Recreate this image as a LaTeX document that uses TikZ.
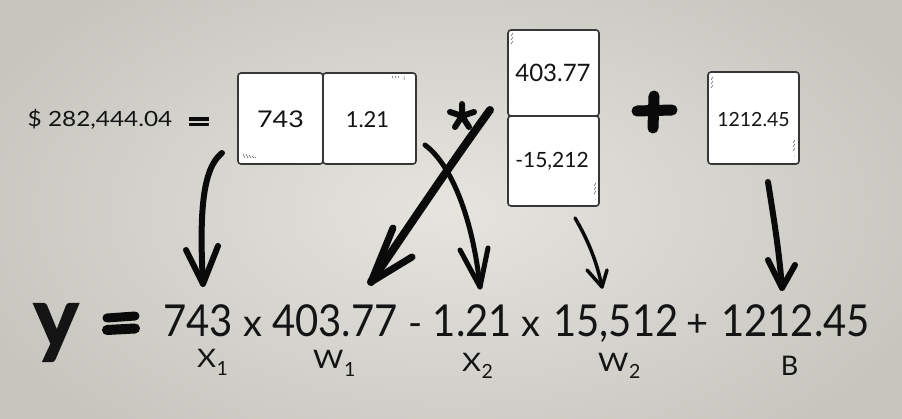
\documentclass[tikz,border=0pt]{standalone}
\usepackage{fontspec}
\setmainfont{Lato}
\newfontfamily\heavy{Lato}[BoldFeatures={FakeBold=2.5}]
\definecolor{bgin}{RGB}{229,228,223}
\definecolor{bgout}{RGB}{198,197,190}
\definecolor{boxedge}{RGB}{55,55,55}
\definecolor{inkc}{RGB}{10,10,10}
\definecolor{txt}{RGB}{20,20,20}
\definecolor{scrib}{RGB}{90,90,90}
\newcommand{\fs}[1]{\fontsize{#1}{#1}\selectfont}
\newcommand{\lab}[2]{\scalebox{1.15}[1]{#1}\kern0.5pt\raisebox{-8pt}{\fs{19.5}#2}}
\newcommand{\nar}[1]{\scalebox{0.91}[1]{#1}}
\newcommand{\wid}[1]{\scalebox{1.16}[1]{#1}}
\begin{document}
\begin{tikzpicture}[x=1pt,y=-1pt,
  box/.style={draw=boxedge, fill=white, line width=1.6pt, rounded corners=3pt},
  ink/.style={draw=inkc, line width=#1, line cap=round, line join=round},
  tok/.style={anchor=base, inner sep=0pt, text=txt},
  lbl/.style={anchor=base west, inner sep=0pt, text=txt, font=\fs{25.5}},
  scr/.style={draw=scrib, line width=0.5pt}]
\useasboundingbox (0,0) rectangle (902,419);
\shade[inner color=bgin, outer color=bgout] (-60,-80) rectangle (962,499);

% left value
\node[tok, font=\fs{21}] (total) at (100,127) {\wid{\$ 282,444.04}};
\draw[ink=3.5pt, line cap=butt] (189,119) -- (209,119) (189,124.5) -- (209,124.5);

% box 1
\draw[box] (238,73) rectangle (323,164);
\draw[box] (323,73) rectangle (416,164);
\node[tok, font=\fs{23}] (b743) at (280.5,128) {\scalebox{1.17}[1]{743}};
\node[tok, font=\fs{22}] (b121) at (367.5,128) {1.21};
\draw[scr] (243,154) -- (245,158) (246,154) -- (248,158) (249,155) -- (251,158) (252,156) -- (254,158) (255,157) -- (256,158);
\draw[scr] (392,76) -- (393,78) (395,76) -- (396,78) (398,76) -- (399,78) (404,76) -- (404,80);

% multiply sign
\draw[ink=6pt] (462,104) -- (462,116) (450,112) -- (462,116) (474,112) -- (462,116) (455,127) -- (462,116) (469,127) -- (462,116);

% box 2
\draw[box] (508,30) rectangle (599,116);
\draw[box] (508,116) rectangle (599,206);
\node[tok, font=\fs{24}] (b403) at (553,82) {403.77};
\node[tok, font=\fs{21}] (b152) at (552,168) {-15,212};
\draw[scr] (511,36) -- (513,33) (511,40) -- (513,37) (511,44) -- (513,41);
\draw[scr] (594,186) -- (596,183) (594,190) -- (596,187) (594,194) -- (596,191) (595,200) -- (596,200);

% plus sign
\draw[ink=11pt] (654,96) -- (653,128) (637,111) -- (672,110);

% box 3
\draw[box] (708,72) rectangle (799,164);
\node[tok, font=\fs{19.5}] (b1212) at (753.5,127) {1212.45};
\draw[scr] (711,80) -- (713,77) (711,84) -- (713,81) (711,88) -- (713,85);
\draw[scr] (793,143) -- (795,140) (793,147) -- (795,144) (793,151) -- (795,148) (794,156) -- (795,156);

% bottom equation
\node[tok, font=\heavy\bfseries\fs{84}] (yy) at (56,347) {y};
\draw[ink=9pt] (107,318) -- (135,316);
\draw[ink=10pt] (107,330) -- (135,328.5);
\node[tok, font=\fs{44}] (e743) at (198,337) {\nar{743}};
\node[tok, font=\fs{38}] (m1) at (253,337) {x};
\node[tok, font=\fs{44}] (e403) at (335,337) {\nar{403.77}};
\node[tok, font=\fs{38}] (mi) at (416,337) {-};
\node[tok, font=\fs{44}] (e121) at (472.5,337) {\nar{1.21}};
\node[tok, font=\fs{38}] (m2) at (531,337) {x};
\node[tok, font=\fs{44}] (e155) at (616,337) {\nar{15,512}};
\node[tok, font=\fs{38}] (pl) at (698,337) {+};
\node[tok, font=\fs{44}] (e1212) at (795.5,337) {\nar{1212.45}};

% labels
\node[lbl] (lx1) at (197,368) {\lab{X}{1}};
\node[lbl] (lw1) at (313,369) {\lab{W}{1}};
\node[lbl] (lx2) at (462,371) {\lab{X}{2}};
\node[lbl] (lw2) at (598,371) {\lab{W}{2}};
\node[tok, font=\fs{27}] (lb) at (789.5,375) {B};

% arrows
\coordinate (aS) at (222,153); \coordinate (aT) at (203,284);
\draw[ink=6pt] (aS) .. controls (203,168) and (199,210) .. (aT);
\draw[ink=6pt] (186,250) -- (aT) -- (218,246);

\coordinate (bS) at (425,145); \coordinate (bT) at (480,287);
\draw[ink=5pt] (bS) .. controls (452,165) and (473,220) .. (bT);
\draw[ink=5pt] (460,250) -- (bT) -- (488,248);

\coordinate (cS) at (490,110); \coordinate (cT) at (371,282);
\draw[ink=8pt] (cS) .. controls (450,165) and (410,225) .. (cT);
\draw[ink=7pt] (393,228) -- (cT) -- (412,257);

\coordinate (dS) at (575,218); \coordinate (dT) at (602,287);
\draw[ink=3.5pt] (dS) .. controls (588,240) and (597,262) .. (dT);
\draw[ink=3.5pt] (587,270) -- (dT) -- (607,270);

\coordinate (eS) at (768,182); \coordinate (eT) at (782,288);
\draw[ink=6pt] (eS) .. controls (774,220) and (779,250) .. (eT);
\draw[ink=6pt] (768,260) -- (eT) -- (795,265);
\end{tikzpicture}
\end{document}
